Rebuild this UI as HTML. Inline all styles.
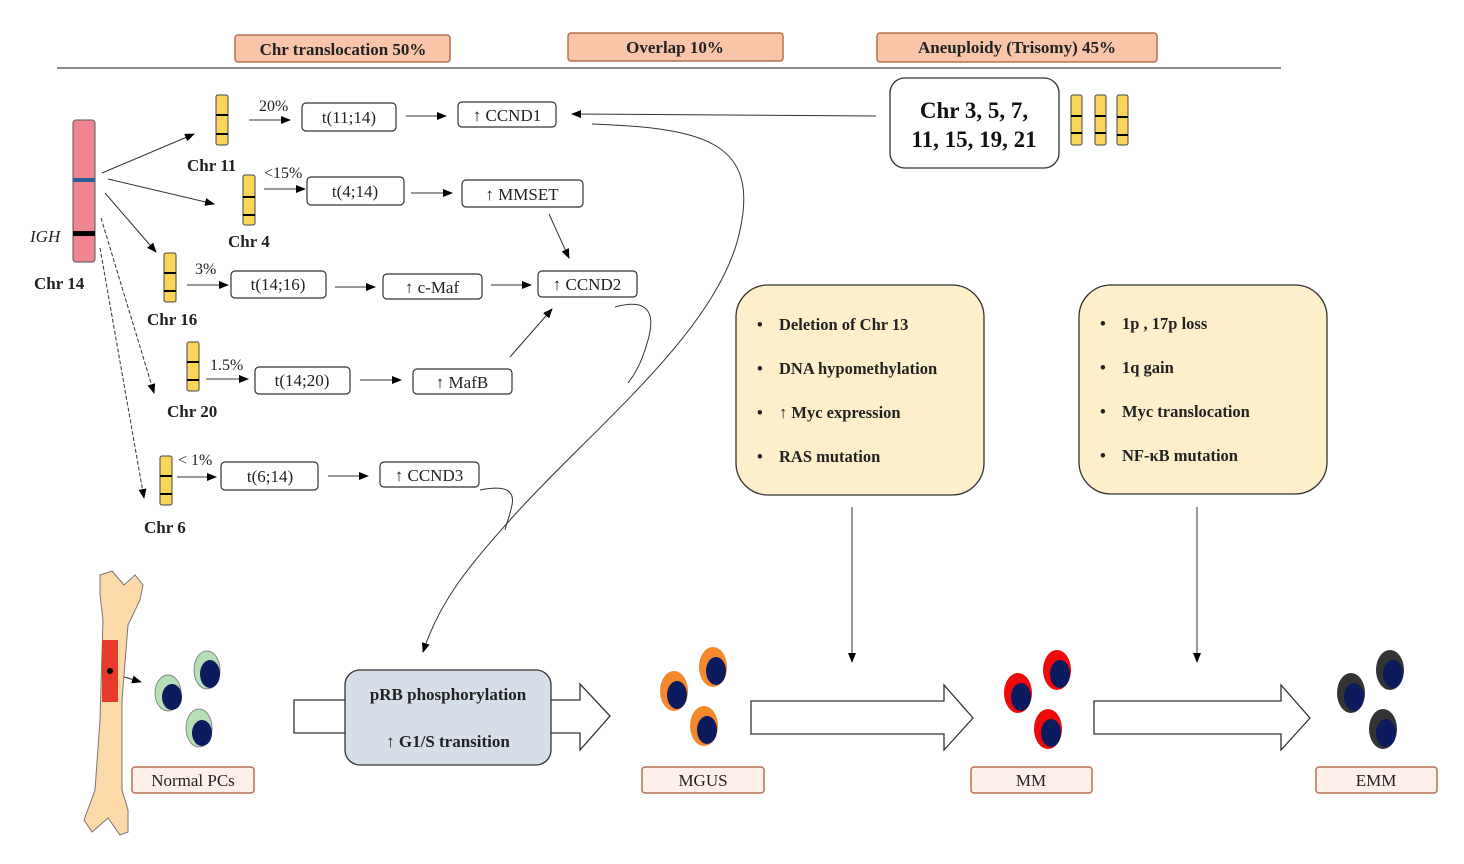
<!DOCTYPE html>
<html><head><meta charset="utf-8"><style>
html,body{margin:0;padding:0;background:#fff;}
svg{display:block;font-family:"Liberation Serif",serif;}
</style></head><body>
<svg width="1464" height="864" viewBox="0 0 1464 864" xmlns="http://www.w3.org/2000/svg">
<defs>
<marker id="a" markerWidth="10" markerHeight="8" refX="9" refY="4" orient="auto" markerUnits="userSpaceOnUse"><path d="M0,0 L10,4 L0,8 Z" fill="#000"/></marker>
</defs>
<g stroke="#b5704f" stroke-width="1.5" fill="#f9c4a8">
<rect x="235" y="35" width="215" height="27" rx="3"/>
<rect x="568" y="33" width="215" height="28" rx="3"/>
<rect x="877" y="33" width="280" height="29" rx="3"/>
</g>
<g font-size="17" font-weight="bold" fill="#222" text-anchor="middle">
<text x="343" y="55">Chr translocation 50%</text>
<text x="675" y="53">Overlap 10%</text>
<text x="1017" y="53">Aneuploidy (Trisomy) 45%</text>
</g>
<line x1="57" y1="68" x2="1281" y2="68" stroke="#666" stroke-width="1.5"/>

<rect x="73" y="120" width="22" height="142" rx="3" fill="#f08592" stroke="#555" stroke-width="1"/>
<rect x="73" y="178" width="22" height="4" fill="#2a5d9a"/>
<rect x="73" y="231" width="22" height="5" fill="#000"/>
<text x="30" y="242" font-size="17" font-style="italic" fill="#222">IGH</text>
<text x="34" y="289" font-size="17" font-weight="bold" fill="#222">Chr 14</text>

<g fill="#fbd55a" stroke="#444" stroke-width="1">
<rect x="216" y="95" width="12" height="50" rx="2"/>
<rect x="243" y="175" width="12" height="50" rx="2"/>
<rect x="164" y="253" width="12" height="49" rx="2"/>
<rect x="187" y="342" width="12" height="49" rx="2"/>
<rect x="160" y="456" width="12" height="49" rx="2"/>
<rect x="1071" y="95" width="11" height="50" rx="2"/>
<rect x="1095" y="95" width="11" height="50" rx="2"/>
<rect x="1117" y="95" width="11" height="50" rx="2"/>
</g>
<g stroke="#000" stroke-width="2">
<line x1="216" y1="115" x2="228" y2="115"/><line x1="216" y1="134" x2="228" y2="134"/>
<line x1="243" y1="197" x2="255" y2="197"/><line x1="243" y1="215" x2="255" y2="215"/>
<line x1="164" y1="273" x2="176" y2="273"/><line x1="164" y1="291" x2="176" y2="291"/>
<line x1="187" y1="362" x2="199" y2="362"/><line x1="187" y1="380" x2="199" y2="380"/>
<line x1="160" y1="476" x2="172" y2="476"/><line x1="160" y1="494" x2="172" y2="494"/>
<line x1="1071" y1="116" x2="1082" y2="116"/><line x1="1071" y1="133" x2="1082" y2="133"/>
<line x1="1095" y1="116" x2="1106" y2="116"/><line x1="1095" y1="133" x2="1106" y2="133"/>
<line x1="1117" y1="117" x2="1128" y2="117"/><line x1="1117" y1="135" x2="1128" y2="135"/>
</g>
<g font-size="17" font-weight="bold" fill="#222">
<text x="187" y="171">Chr 11</text>
<text x="228" y="247">Chr 4</text>
<text x="147" y="325">Chr 16</text>
<text x="167" y="417">Chr 20</text>
<text x="144" y="533">Chr 6</text>
</g>
<g font-size="16" fill="#222">
<text x="259" y="111">20%</text>
<text x="264" y="178">&lt;15%</text>
<text x="195" y="274">3%</text>
<text x="210" y="370">1.5%</text>
<text x="178" y="465">&lt; 1%</text>
</g>

<g stroke="#333" stroke-width="1" fill="none" marker-end="url(#a)">
<line x1="102" y1="173" x2="194" y2="134"/>
<line x1="108" y1="179" x2="214" y2="204"/>
<line x1="105" y1="193" x2="156" y2="252"/>
<line x1="101" y1="218" x2="154" y2="393" stroke-dasharray="4,2"/>
<line x1="100" y1="248" x2="144" y2="498" stroke-dasharray="4,2"/>
<line x1="249" y1="120" x2="290" y2="120"/>
<line x1="264" y1="189" x2="305" y2="189"/>
<line x1="187" y1="285" x2="228" y2="285"/>
<line x1="206" y1="379" x2="248" y2="379"/>
<line x1="177" y1="477" x2="216" y2="477"/>
<line x1="406" y1="116" x2="446" y2="116"/>
<line x1="411" y1="193" x2="452" y2="193"/>
<line x1="335" y1="287" x2="375" y2="287"/>
<line x1="491" y1="285" x2="531" y2="285"/>
<line x1="360" y1="380" x2="401" y2="380"/>
<line x1="328" y1="476" x2="368" y2="476"/>
<line x1="549" y1="214" x2="569" y2="258"/>
<line x1="510" y1="357" x2="552" y2="309"/>
<line x1="876" y1="116" x2="572" y2="114"/>
<line x1="852" y1="507" x2="852" y2="662"/>
<line x1="1197" y1="507" x2="1197" y2="662"/>
<line x1="111" y1="673" x2="141" y2="682"/>
<path d="M592,124 C700,128 760,140 740,230 C720,330 590,430 510,520 C470,565 440,600 423,652"/>
</g>
<path d="M615,307 C640,300 658,305 648,340 C640,370 630,380 628,383" stroke="#333" fill="none"/>
<path d="M480,490 C505,485 515,490 512,505 C510,515 506,525 505,530" stroke="#333" fill="none"/>

<g fill="#fff" stroke="#333" stroke-width="1.2">
<rect x="302" y="103" width="94" height="28" rx="4"/>
<rect x="458" y="102" width="98" height="25" rx="4"/>
<rect x="307" y="177" width="97" height="28" rx="4"/>
<rect x="462" y="180" width="121" height="27" rx="4"/>
<rect x="231" y="271" width="95" height="27" rx="4"/>
<rect x="383" y="274" width="99" height="25" rx="4"/>
<rect x="538" y="271" width="99" height="26" rx="4"/>
<rect x="255" y="367" width="95" height="27" rx="4"/>
<rect x="413" y="369" width="99" height="25" rx="4"/>
<rect x="221" y="462" width="97" height="28" rx="4"/>
<rect x="380" y="462" width="99" height="25" rx="4"/>
</g>
<g font-size="17" fill="#222" text-anchor="middle">
<text x="349" y="123">t(11;14)</text>
<text x="507" y="121">↑ CCND1</text>
<text x="355" y="197">t(4;14)</text>
<text x="522" y="200">↑ MMSET</text>
<text x="278" y="290">t(14;16)</text>
<text x="432" y="293">↑ c-Maf</text>
<text x="587" y="290">↑ CCND2</text>
<text x="302" y="386">t(14;20)</text>
<text x="462" y="388">↑ MafB</text>
<text x="270" y="482">t(6;14)</text>
<text x="429" y="481">↑ CCND3</text>
</g>

<rect x="890" y="78" width="169" height="90" rx="15" fill="#fff" stroke="#333" stroke-width="1.3"/>
<g font-size="23" font-weight="bold" fill="#111" text-anchor="middle">
<text x="974" y="118">Chr 3, 5, 7,</text>
<text x="974" y="147">11, 15, 19, 21</text>
</g>

<rect x="736" y="285" width="248" height="210" rx="32" fill="#fdefc9" stroke="#333" stroke-width="1.3"/>
<rect x="1079" y="285" width="248" height="209" rx="32" fill="#fdefc9" stroke="#333" stroke-width="1.3"/>
<g font-size="16.5" font-weight="bold" fill="#222">
<text x="757" y="330">•</text><text x="779" y="330">Deletion of Chr 13</text>
<text x="757" y="374">•</text><text x="779" y="374">DNA hypomethylation</text>
<text x="757" y="418">•</text><text x="779" y="418">↑ Myc expression</text>
<text x="757" y="462">•</text><text x="779" y="462">RAS mutation</text>
<text x="1100" y="329">•</text><text x="1122" y="329">1p , 17p loss</text>
<text x="1100" y="373">•</text><text x="1122" y="373">1q gain</text>
<text x="1100" y="417">•</text><text x="1122" y="417">Myc translocation</text>
<text x="1100" y="461">•</text><text x="1122" y="461">NF-κB mutation</text>
</g>

<path d="M100,575 L112,571 L124,585 L135,575 L143,585 L140,600 L128,625 L122,700 L122,790 L128,810 L128,832 L120,835 L108,818 L92,832 L84,820 L95,790 L100,720 L103,620 L100,595 Z" fill="#fcd9a8" stroke="#777" stroke-width="1"/>
<rect x="102" y="640" width="16" height="62" fill="#e83a2a"/>
<circle cx="110" cy="671" r="3" fill="#000"/>

<g fill="#fff" stroke="#333" stroke-width="1.3">
<path d="M294,700 L580,700 L580,684 L610,716 L580,750 L580,733 L294,733 Z"/>
<path d="M751,701 L944,701 L944,685 L973,718 L944,750 L944,734 L751,734 Z"/>
<path d="M1094,701 L1281,701 L1281,685 L1310,718 L1281,750 L1281,734 L1094,734 Z"/>
</g>
<rect x="345" y="670" width="206" height="95" rx="15" fill="#d6dee8" stroke="#333" stroke-width="1.3"/>
<g font-size="17" font-weight="bold" fill="#222" text-anchor="middle">
<text x="448" y="700">pRB phosphorylation</text>
<text x="448" y="747">↑ G1/S transition</text>
</g>

<g>
<ellipse cx="168" cy="693" rx="13" ry="18" fill="#b5e0b5" stroke="#888"/><ellipse cx="172" cy="697" rx="10" ry="13" fill="#0c1a5e"/>
<ellipse cx="207" cy="670" rx="13" ry="19" fill="#b5e0b5" stroke="#888"/><ellipse cx="210" cy="674" rx="10" ry="14" fill="#0c1a5e"/>
<ellipse cx="199" cy="728" rx="13" ry="19" fill="#b5e0b5" stroke="#888"/><ellipse cx="202" cy="733" rx="10" ry="13" fill="#0c1a5e"/>

<ellipse cx="674" cy="691" rx="14" ry="20" fill="#f3892c"/><ellipse cx="677" cy="695" rx="10" ry="14" fill="#0c1a5e"/>
<ellipse cx="713" cy="667" rx="14" ry="20" fill="#f3892c"/><ellipse cx="716" cy="671" rx="10" ry="14" fill="#0c1a5e"/>
<ellipse cx="704" cy="726" rx="14" ry="20" fill="#f3892c"/><ellipse cx="707" cy="730" rx="10" ry="14" fill="#0c1a5e"/>

<ellipse cx="1018" cy="693" rx="14" ry="20" fill="#ee0a0a"/><ellipse cx="1021" cy="697" rx="10" ry="14" fill="#0c1a5e"/>
<ellipse cx="1057" cy="670" rx="14" ry="20" fill="#ee0a0a"/><ellipse cx="1060" cy="674" rx="10" ry="14" fill="#0c1a5e"/>
<ellipse cx="1048" cy="729" rx="14" ry="20" fill="#ee0a0a"/><ellipse cx="1051" cy="733" rx="10" ry="14" fill="#0c1a5e"/>

<ellipse cx="1351" cy="693" rx="14" ry="20" fill="#333"/><ellipse cx="1354" cy="697" rx="10" ry="14" fill="#0c1a5e"/>
<ellipse cx="1390" cy="670" rx="14" ry="20" fill="#333"/><ellipse cx="1393" cy="674" rx="10" ry="14" fill="#0c1a5e"/>
<ellipse cx="1383" cy="729" rx="14" ry="20" fill="#333"/><ellipse cx="1386" cy="733" rx="10" ry="14" fill="#0c1a5e"/>
</g>

<g fill="#fdf0ea" stroke="#b5704f" stroke-width="1.5">
<rect x="132" y="767" width="122" height="26" rx="3"/>
<rect x="642" y="767" width="122" height="26" rx="3"/>
<rect x="971" y="767" width="121" height="26" rx="3"/>
<rect x="1316" y="767" width="121" height="26" rx="3"/>
</g>
<g font-size="17" fill="#222" text-anchor="middle">
<text x="193" y="786">Normal PCs</text>
<text x="703" y="786">MGUS</text>
<text x="1031" y="786">MM</text>
<text x="1376" y="786">EMM</text>
</g>
</svg>
</body></html>
